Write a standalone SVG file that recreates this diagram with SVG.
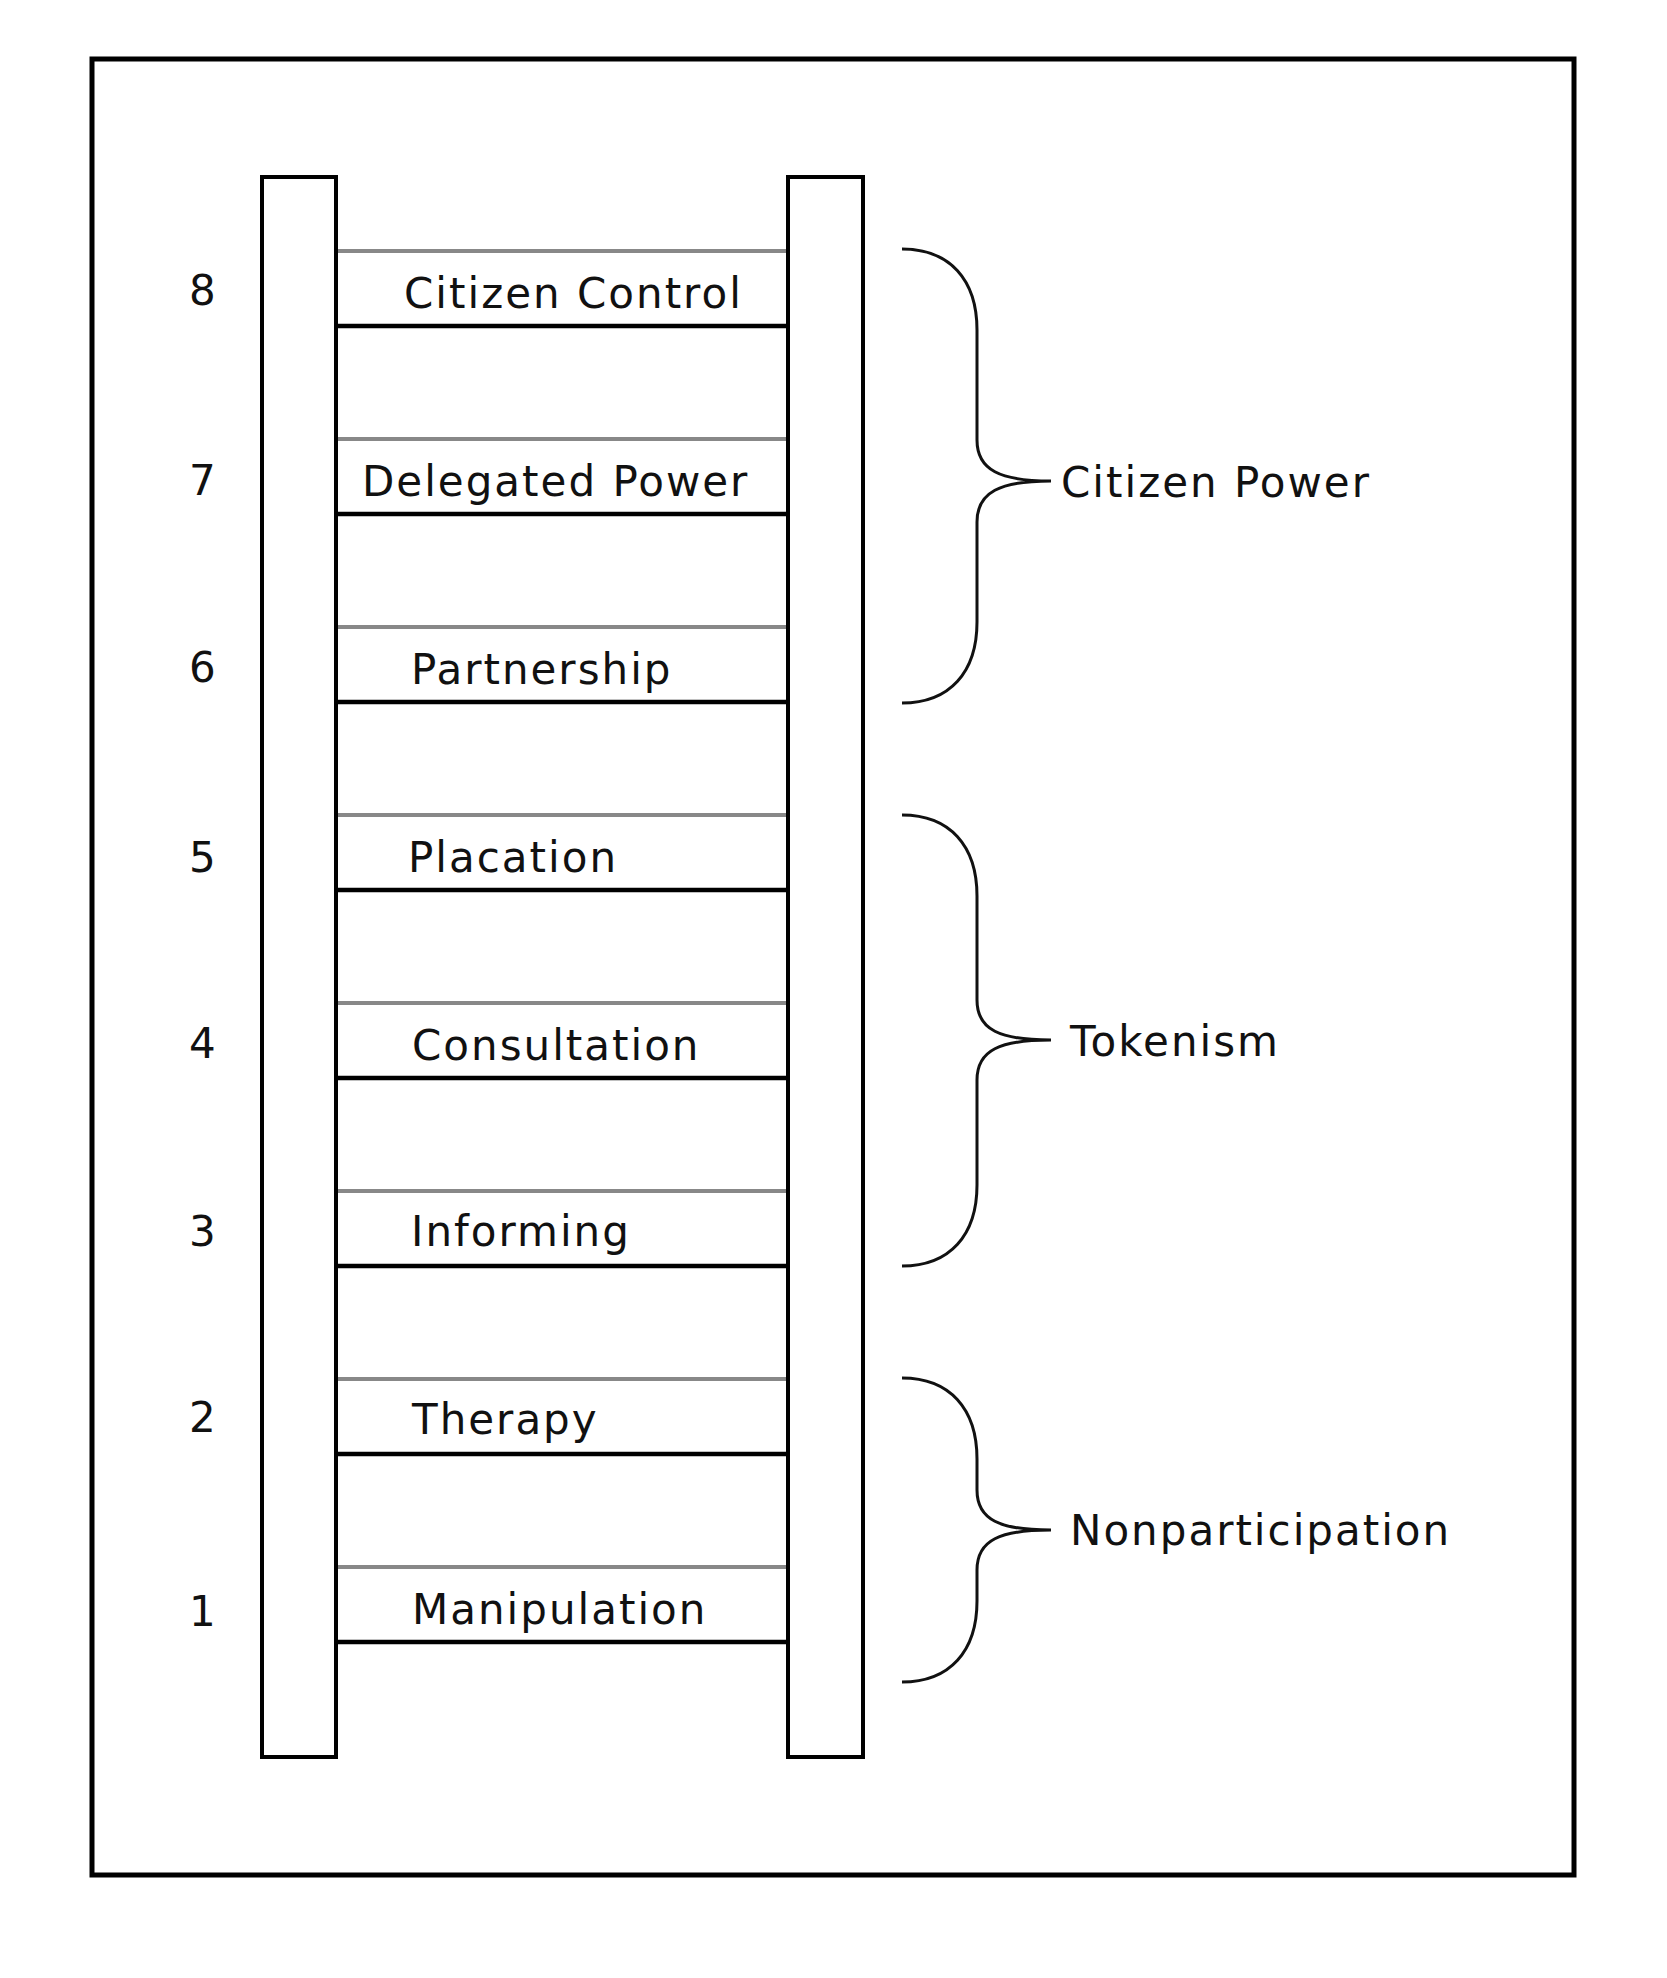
<svg xmlns="http://www.w3.org/2000/svg" width="1667" height="1978" viewBox="0 0 1667 1978">
<style>
.t{font-family:"DejaVu Sans",sans-serif;font-size:42px;letter-spacing:2px;fill:#111}
.g{stroke:#888;stroke-width:4}
.b{stroke:#000;stroke-width:4.5}
.rail{fill:#fff;stroke:#000;stroke-width:4}
.br{fill:none;stroke:#111;stroke-width:3}
</style>
<rect x="0" y="0" width="1667" height="1978" fill="#fff"/>
<rect id="frame" x="92" y="59" width="1482" height="1816" fill="none" stroke="#000" stroke-width="5"/>
<g id="rungs">
<g id="r8"><line class="g" x1="336" y1="251" x2="787" y2="251"/><line class="b" x1="336" y1="326" x2="787" y2="326"/><text class="t" x="404" y="308">Citizen Control</text><text class="t" x="189" y="305">8</text></g>
<g id="r7"><line class="g" x1="336" y1="439" x2="787" y2="439"/><line class="b" x1="336" y1="514" x2="787" y2="514"/><text class="t" x="362" y="496">Delegated Power</text><text class="t" x="189" y="495">7</text></g>
<g id="r6"><line class="g" x1="336" y1="627" x2="787" y2="627"/><line class="b" x1="336" y1="702" x2="787" y2="702"/><text class="t" x="411" y="684">Partnership</text><text class="t" x="189" y="682">6</text></g>
<g id="r5"><line class="g" x1="336" y1="815" x2="787" y2="815"/><line class="b" x1="336" y1="890" x2="787" y2="890"/><text class="t" x="408" y="872">Placation</text><text class="t" x="189" y="872">5</text></g>
<g id="r4"><line class="g" x1="336" y1="1003" x2="787" y2="1003"/><line class="b" x1="336" y1="1078" x2="787" y2="1078"/><text class="t" x="412" y="1060">Consultation</text><text class="t" x="189" y="1058">4</text></g>
<g id="r3"><line class="g" x1="336" y1="1191" x2="787" y2="1191"/><line class="b" x1="336" y1="1266" x2="787" y2="1266"/><text class="t" x="411" y="1246">Informing</text><text class="t" x="189" y="1246">3</text></g>
<g id="r2"><line class="g" x1="336" y1="1379" x2="787" y2="1379"/><line class="b" x1="336" y1="1454" x2="787" y2="1454"/><text class="t" x="412" y="1434">Therapy</text><text class="t" x="189" y="1432">2</text></g>
<g id="r1"><line class="g" x1="336" y1="1567" x2="787" y2="1567"/><line class="b" x1="336" y1="1642" x2="787" y2="1642"/><text class="t" x="412" y="1624">Manipulation</text><text class="t" x="189" y="1626">1</text></g>
</g>
<g id="rails">
<rect class="rail" x="262" y="177" width="74" height="1580"/>
<rect class="rail" x="788" y="177" width="75" height="1580"/>
</g>
<g id="braces">
<g id="citizen-power"><path class="br" d="M902,249 C950,249 977,280 977,330 L977,440 C977,470 1000,481 1051,481 M902,703 C950,703 977,672 977,622 L977,522 C977,492 1000,481 1051,481"/><text class="t" x="1061" y="497">Citizen Power</text></g>
<g id="tokenism"><path class="br" d="M902,815 C950,815 977,846 977,896 L977,1000 C977,1030 1000,1040 1051,1040 M902,1266 C950,1266 977,1235 977,1185 L977,1080 C977,1050 1000,1040 1051,1040"/><text class="t" x="1070" y="1056">Tokenism</text></g>
<g id="nonparticipation"><path class="br" d="M902,1378 C950,1378 977,1409 977,1459 L977,1490 C977,1520 1000,1530 1051,1530 M902,1682 C950,1682 977,1651 977,1601 L977,1570 C977,1540 1000,1530 1051,1530"/><text class="t" x="1070" y="1545">Nonparticipation</text></g>
</g>
</svg>
